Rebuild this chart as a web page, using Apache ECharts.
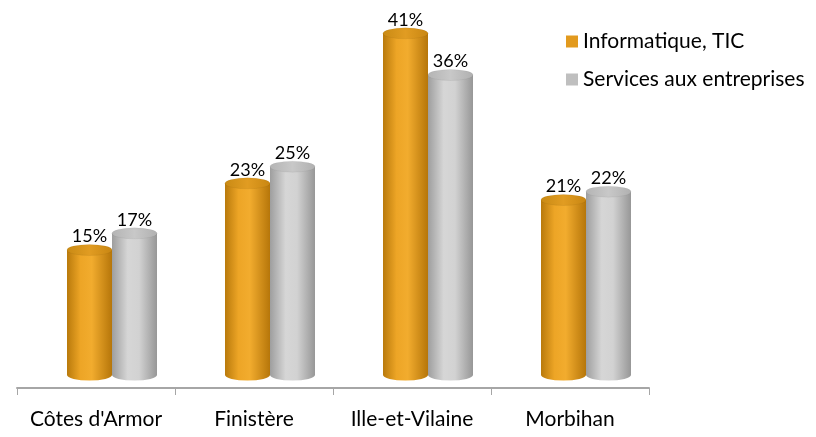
<!DOCTYPE html>
<html>
<head>
<meta charset="utf-8">
<script src="https://cdn.jsdelivr.net/npm/echarts@6/dist/echarts.min.js"></script>
<style>html,body{margin:0;padding:0;background:#fff}#c{width:816px;height:437px}</style>
</head>
<body>
<div id="c"></div>
<script>
const categories = ["Côtes d'Armor", "Finistère", "Ille-et-Vilaine", "Morbihan"];
const informatique = [15, 23, 41, 21];
const services = [17, 25, 36, 22];
const seriesNames = ["Informatique, TIC", "Services aux entreprises"];

const FONT = 'Lato, "Open Sans", sans-serif';

function grad(stops) {
  return new echarts.graphic.LinearGradient(0, 0, 1, 0, stops.map(s => ({offset: s[0], color: s[1]})));
}
const styles = [
  {
    body: [[0, '#B97A0C'], [0.3, '#EDA526'], [0.55, '#F2AC2E'], [1, '#B6760A']],
    top: [[0, '#C98A14'], [0.5, '#E19C22'], [1, '#C88612']],
    legend: '#E29A1E', offset: -22.5
  },
  {
    body: [[0, '#9E9E9E'], [0.35, '#D6D6D6'], [0.6, '#D2D2D2'], [1, '#979797']],
    top: [[0, '#B4B4B4'], [0.5, '#C8C8C8'], [1, '#B0B0B0']],
    legend: '#BFBFBF', offset: 22.5
  }
];

function makeRender(st) {
  return function (params, api) {
    const cat = api.value(0), val = api.value(1);
    const top = api.coord([cat, val]);
    const base = api.coord([cat, 0]);
    const r = 22.5, ry = 5.5;
    const cx = top[0] + st.offset;
    return {
      type: 'group',
      children: [
        {type: 'circle', x: cx, y: base[1], scaleY: ry / r, shape: {cx: 0, cy: 0, r: r}, style: {fill: grad(st.body)}},
        {type: 'rect', shape: {x: cx - r, y: top[1], width: 2 * r, height: base[1] - top[1]}, style: {fill: grad(st.body)}},
        {type: 'circle', x: cx, y: top[1], scaleY: ry / r, shape: {cx: 0, cy: 0, r: r}, style: {fill: grad(st.top), stroke: 'rgba(0,0,0,0.08)', lineWidth: 1}},
        {type: 'text', x: cx, y: top[1] - ry + 1, style: {text: val + '%', align: 'center', verticalAlign: 'bottom', font: '18px ' + FONT, fill: '#000'}}
      ]
    };
  };
}

const chart = echarts.init(document.getElementById('c'), null, {renderer: 'canvas'});
chart.setOption({
  animation: false,
  backgroundColor: '#fff',
  legend: {
    orient: 'vertical', left: 566, top: 31, padding: 0, itemWidth: 12, itemHeight: 12, itemGap: 17,
    icon: 'rect',
    textStyle: {fontSize: 21, fontFamily: FONT, color: '#000'},
    data: seriesNames
  },
  grid: [
    {left: 17, right: 167, top: 0, bottom: 49},
    {left: 33, right: 151, top: -5, bottom: 62}
  ],
  xAxis: [
    {gridIndex: 0, type: 'category', data: categories, boundaryGap: true,
     axisLine: {lineStyle: {color: '#A6A6A6', width: 2}},
     axisTick: {show: true, length: 7, interval: 0, lineStyle: {color: '#A6A6A6', width: 1}},
     axisLabel: {fontSize: 21, fontFamily: FONT, color: '#000', margin: 21, interval: 0}},
    {gridIndex: 1, type: 'category', data: categories, show: false}
  ],
  yAxis: [
    {gridIndex: 0, type: 'value', show: false, min: 0, max: 45},
    {gridIndex: 1, type: 'value', show: false, min: 0, max: 45, splitLine: {show: false}}
  ],
  series: [
    {name: seriesNames[0], type: 'custom', xAxisIndex: 1, yAxisIndex: 1,
     itemStyle: {color: styles[0].legend},
     renderItem: makeRender(styles[0]),
     data: informatique.map((v, i) => [i, v])},
    {name: seriesNames[1], type: 'custom', xAxisIndex: 1, yAxisIndex: 1,
     itemStyle: {color: styles[1].legend},
     renderItem: makeRender(styles[1]),
     data: services.map((v, i) => [i, v])}
  ]
});
</script>
</body>
</html>
